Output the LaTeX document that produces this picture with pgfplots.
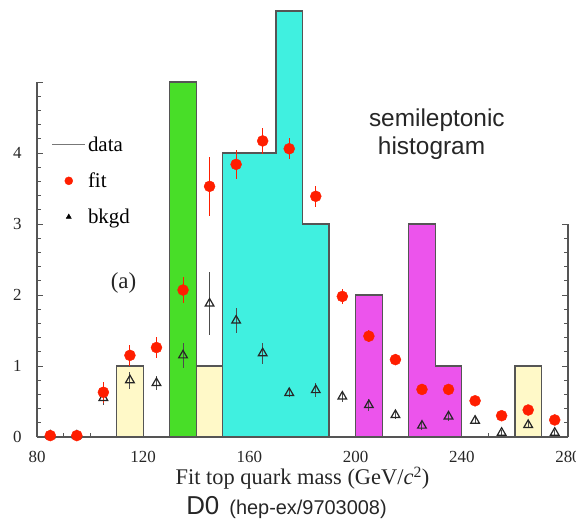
\documentclass[border=0pt]{standalone}
\usepackage{fontspec}
\setmainfont{Liberation Serif}
\newfontfamily\hv{Liberation Sans}
\usepackage{pgfplots}
\usepackage{pgfplotstable}
\pgfplotsset{compat=1.18}
\definecolor{hyellow}{RGB}{255,249,200}
\definecolor{hgreen}{RGB}{72,222,40}
\definecolor{hcyan}{RGB}{64,240,224}
\definecolor{hmag}{RGB}{236,84,236}
\definecolor{hedge}{RGB}{85,85,85}
\definecolor{fitred}{RGB}{255,30,0}
\pgfplotsset{wide legend/.style={legend image code/.code={\draw[mark repeat=2,mark phase=2,##1] plot coordinates {(0bp,0bp) (16.5bp,0bp) (33bp,0bp)};}}}

\pgfplotstableread{
x y e
85 0.02 0.03
95 0.02 0.03
105 0.63 0.15
115 1.15 0.15
125 1.26 0.15
135 2.07 0.18
145 3.53 0.42
155 3.84 0.20
165 4.17 0.18
175 4.06 0.15
185 3.39 0.15
195 1.98 0.10
205 1.42 0.08
215 1.09 0.08
225 0.67 0.06
235 0.67 0.06
245 0.51 0.06
255 0.30 0.05
265 0.38 0.05
275 0.24 0.05
}\fittab

\pgfplotstableread{
x y e
85 0.02 0.03
95 0.02 0.03
105 0.55 0.10
115 0.80 0.12
125 0.76 0.10
135 1.15 0.18
145 1.88 0.45
155 1.64 0.18
165 1.18 0.15
175 0.62 0.06
185 0.66 0.10
195 0.57 0.08
205 0.45 0.08
215 0.31 0.06
225 0.16 0.06
235 0.29 0.06
245 0.23 0.05
255 0.06 0.04
265 0.17 0.05
275 0.06 0.04
}\bkgtab

\begin{document}
\begin{tikzpicture}
\begin{axis}[
  scale only axis, width=531bp, height=355bp,
  xmin=80, xmax=280, ymin=0, ymax=5, clip=false,
  axis x line*=bottom, axis y line*=left,
  axis line style={hedge, line width=1.2bp},
  xtick={80,120,...,280}, minor x tick num=3,
  ytick={0,1,2,3,4,5}, yticklabels={0,1,2,3,4,{}}, minor y tick num=4,
  tick align=inside,
  major tick length=6bp, minor tick length=4bp,
  tick style={hedge, line width=0.8bp},
  ticklabel style={font=\fontsize{17}{20}\selectfont, text=black!85},
  /pgf/number format/assume math mode=true,
  yticklabel style={xshift=-12bp},
  xticklabel style={yshift=-11bp},
  xlabel={Fit top quark mass (GeV/\textit{c}\textsuperscript{2})},
  xlabel style={font=\fontsize{22.5}{25}\selectfont, text=black!85, at={(axis description cs:0.5,0)}, anchor=center, yshift=-41bp},
  legend style={at={(0.027,0.852)}, anchor=north west, draw=none, fill=none,
    font=\fontsize{21}{24}\selectfont, row sep=16bp, inner sep=0pt},
  legend cell align=left,
]
% histogram (data)
\addplot[const plot, fill=hyellow, draw=hedge, line width=1.2bp, forget plot] coordinates {(110,1) (120,1)} \closedcycle;
\addplot[const plot, fill=hgreen, draw=hedge, line width=1.2bp, forget plot] coordinates {(130,5) (140,5)} \closedcycle;
\addplot[const plot, fill=hyellow, draw=hedge, line width=1.2bp, forget plot] coordinates {(140,1) (150,1)} \closedcycle;
\addplot[const plot, fill=hcyan, draw=hedge, line width=1.2bp, forget plot] coordinates {(150,4) (160,4) (170,6) (180,3) (190,3)} \closedcycle;
\addplot[const plot, fill=hmag, draw=hedge, line width=1.2bp, forget plot] coordinates {(200,2) (210,2)} \closedcycle;
\addplot[const plot, fill=hmag, draw=hedge, line width=1.2bp, forget plot] coordinates {(220,3) (230,1) (240,1)} \closedcycle;
\addplot[const plot, fill=hyellow, draw=hedge, line width=1.2bp, forget plot] coordinates {(260,1) (270,1)} \closedcycle;
% background
\addplot[only marks, mark=triangle, mark size=5bp, black!85, mark options={line width=1.2bp}, forget plot,
  error bars/.cd, y dir=both, y explicit, error mark=none, error bar style={black!70, line width=1bp}]
  table[x=x, y=y, y error=e] {\bkgtab};
% fit
\addplot[only marks, mark=*, mark size=5.5bp, fitred, forget plot,
  error bars/.cd, y dir=both, y explicit, error mark=none, error bar style={fitred, line width=1bp}]
  table[x=x, y=y, y error=e] {\fittab};
% legend
\addlegendimage{wide legend, hedge!80, line width=1.5bp}
\addlegendimage{wide legend, only marks, mark=*, mark size=4bp, fitred}
\addlegendimage{wide legend, only marks, mark=triangle*, mark size=3bp, black}
\legend{data, fit, bkgd}
% partial right axis
\draw[hedge, line width=1.4bp] (axis cs:280,0) -- (axis cs:280,3);
\pgfplotsinvokeforeach{0.2,0.4,0.6,0.8,1.2,1.4,1.6,1.8,2.2,2.4,2.6,2.8}{\draw[hedge, line width=0.8bp] (axis cs:280,#1) -- ([xshift=-4bp]axis cs:280,#1);}
\pgfplotsinvokeforeach{1,2,3}{\draw[hedge, line width=0.8bp] (axis cs:280,#1) -- ([xshift=-6bp]axis cs:280,#1);}
% texts
\node[font=\hv\fontsize{24.5}{27}\selectfont, text=black!85] at (rel axis cs:0.753,0.893) {semileptonic};
\node[font=\hv\fontsize{24.5}{27}\selectfont, text=black!85] at (rel axis cs:0.743,0.814) {histogram};
\node[font=\fontsize{23}{26}\selectfont, text=black!85] at (rel axis cs:0.163,0.434) {(a)};
\node[font=\hv, text=black!85] at (rel axis cs:0.5,0) [yshift=-71bp, xshift=-16bp]
  {{\fontsize{26}{28}\selectfont D0}\hspace{10bp}{\fontsize{20}{23}\selectfont (hep-ex/9703008)}};
\end{axis}
\pgfresetboundingbox
\useasboundingbox (-37bp,-92bp) rectangle (539bp,437bp);
\end{tikzpicture}
\end{document}
